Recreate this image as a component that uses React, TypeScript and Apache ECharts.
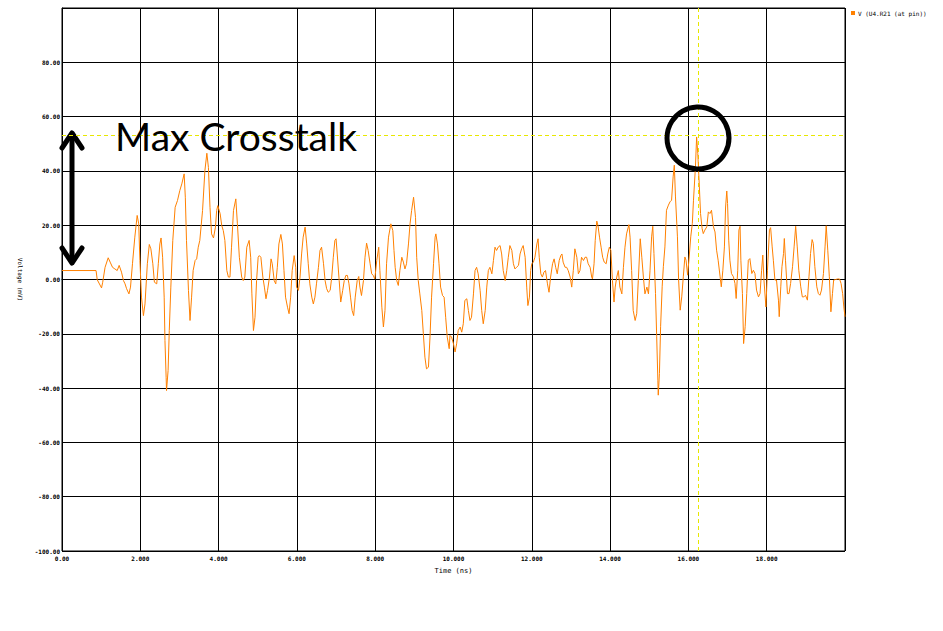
import React, { useEffect, useRef } from "react";
import * as echarts from "echarts";

const seriesName = "V (U4.R21 (at pin))";
const xAxisName = "Time (ns)";
const yAxisName = "Voltage (mV)";
const annotationText = "Max Crosstalk";
const cursorTime = 16.24;
const cursorLevel = 53.1;

// [time (ns), voltage (mV)]
const waveform: [number, number][] = [
  [0, 3.3], [0.87, 3.3], [0.9, -0.1], [1.01, -3.1], [1.04, -1.0], [1.1, 4.5], [1.18, 8.0], [1.23, 6.4],
  [1.29, 4.5], [1.35, 3.9], [1.41, 3.3], [1.46, 5.2], [1.52, 2.7], [1.57, -0.4], [1.61, -1.6], [1.65, -3.4],
  [1.71, -5.3], [1.75, -2.8], [1.8, 5.8], [1.86, 15.6], [1.92, 23.6], [1.96, 20.5], [1.99, 7.0], [2.03, -6.5],
  [2.08, -13.3], [2.12, -9.0], [2.18, 5.8], [2.23, 12.9], [2.27, 11.3], [2.32, 5.8], [2.36, -1.0], [2.42, -1.6],
  [2.46, 5.8], [2.5, 13.1], [2.53, 15.3], [2.57, 8.2], [2.61, -6.5], [2.63, -22.5], [2.66, -36.0], [2.67, -40.9],
  [2.71, -33.5], [2.74, -18.8], [2.78, -2.8], [2.83, 14.4], [2.89, 26.6], [2.95, 29.1], [3.01, 32.8], [3.06, 35.2],
  [3.12, 38.9], [3.15, 30.3], [3.18, 14.4], [3.23, -4.0], [3.27, -15.1], [3.31, -6.5], [3.35, 3.3], [3.4, 7.0],
  [3.44, 7.6], [3.48, 11.9], [3.52, 14.4], [3.59, 25.4], [3.65, 40.1], [3.7, 46.5], [3.74, 41.3], [3.78, 26.6],
  [3.82, 16.8], [3.87, 15.3], [3.92, 19.3], [3.95, 25.4], [3.98, 27.2], [4.04, 24.2], [4.08, 19.9], [4.12, 18.0],
  [4.16, 14.4], [4.21, 3.3], [4.25, 0.9], [4.29, 0.9], [4.33, 11.9], [4.38, 25.4], [4.44, 29.7], [4.48, 20.5],
  [4.53, 8.2], [4.59, 0.9], [4.63, -0.4], [4.67, 0.9], [4.72, 11.9], [4.78, 14.4], [4.82, 8.2], [4.85, -5.3],
  [4.89, -18.8], [4.93, -13.9], [4.97, -0.4], [5.01, 8.2], [5.04, 8.8], [5.08, 8.2], [5.13, 0.9], [5.17, -2.8],
  [5.21, -7.1], [5.25, -4.0], [5.3, 0.9], [5.34, 7.6], [5.37, 5.8], [5.42, -0.4], [5.46, -1.6], [5.5, 4.5],
  [5.54, 13.1], [5.59, 16.6], [5.63, 13.1], [5.67, 3.3], [5.71, -6.5], [5.76, -10.2], [5.8, -12.6], [5.84, -6.5],
  [5.88, 3.3], [5.93, 8.8], [5.97, 4.5], [5.99, -2.8], [6.04, -4.0], [6.08, 0.9], [6.12, 9.4], [6.16, 15.6],
  [6.21, 19.3], [6.25, 13.1], [6.29, 5.8], [6.33, -1.6], [6.38, -6.5], [6.42, -9.0], [6.46, -6.5], [6.5, -1.6],
  [6.55, 4.5], [6.59, 10.7], [6.63, 11.9], [6.68, 5.8], [6.72, -0.4], [6.76, -3.4], [6.8, -4.7], [6.85, -4.0],
  [6.89, 0.9], [6.93, 8.2], [6.97, 14.4], [7.0, 15.0], [7.03, 9.4], [7.08, -0.4], [7.12, -8.3], [7.17, -4.0],
  [7.21, -0.4], [7.25, 1.5], [7.29, 1.5], [7.33, -1.6], [7.37, -6.5], [7.41, -11.4], [7.45, -13.3], [7.49, -6.5],
  [7.54, -0.4], [7.58, 1.1], [7.61, -2.8], [7.65, -5.9], [7.7, -0.4], [7.74, 8.2], [7.78, 13.4], [7.82, 10.7],
  [7.87, 5.8], [7.91, 2.1], [7.95, 1.5], [7.99, 0.2], [8.04, 7.0], [8.09, 11.9], [8.12, 3.3], [8.17, -10.2],
  [8.21, -17.5], [8.25, -11.4], [8.29, 5.8], [8.34, 15.6], [8.4, 20.5], [8.45, 18.0], [8.48, 10.7], [8.51, 4.5],
  [8.55, -0.4], [8.59, -2.2], [8.63, 3.3], [8.68, 8.2], [8.72, 6.4], [8.76, 3.9], [8.8, 5.8], [8.85, 13.1],
  [8.89, 20.5], [8.93, 25.4], [8.98, 30.3], [9.03, 22.9], [9.06, 8.2], [9.1, -0.4], [9.14, -5.3], [9.19, -11.4],
  [9.23, -20.0], [9.27, -28.6], [9.31, -32.9], [9.36, -32.3], [9.4, -21.2], [9.44, -6.5], [9.49, 5.8], [9.53, 15.6],
  [9.55, 16.8], [9.59, 13.1], [9.63, 5.8], [9.67, -2.8], [9.72, -5.9], [9.76, -6.5], [9.8, -13.9], [9.84, -21.2],
  [9.89, -25.5], [9.91, -20.6], [9.95, -21.2], [10.0, -23.7], [10.04, -26.7], [10.08, -23.7], [10.12, -18.8], [10.17, -17.5],
  [10.21, -19.4], [10.25, -16.3], [10.29, -7.7], [10.34, -7.1], [10.38, -11.4], [10.42, -15.1], [10.46, -13.9], [10.51, -5.3],
  [10.55, 3.3], [10.59, 4.5], [10.63, 2.1], [10.68, -4.0], [10.72, -11.4], [10.76, -16.3], [10.81, -11.4], [10.85, -2.8],
  [10.89, 3.3], [10.93, 4.5], [10.98, 2.1], [11.02, 7.0], [11.06, 11.9], [11.1, 10.7], [11.14, 11.9], [11.19, 12.5],
  [11.23, 9.4], [11.27, 3.3], [11.32, -0.4], [11.36, 3.3], [11.4, 8.2], [11.44, 12.5], [11.49, 10.7], [11.53, 5.8],
  [11.57, 3.9], [11.61, 4.5], [11.66, 5.2], [11.7, 9.4], [11.74, 11.3], [11.78, 12.5], [11.83, 8.2], [11.87, -2.8],
  [11.9, -9.6], [11.94, -6.5], [11.97, 3.3], [12.0, 5.8], [12.04, 6.4], [12.08, 8.2], [12.13, 13.1], [12.16, 15.0],
  [12.19, 8.2], [12.23, 2.1], [12.27, 0.9], [12.31, 2.7], [12.35, 3.3], [12.4, -1.6], [12.44, -4.7], [12.48, 0.9],
  [12.53, 5.8], [12.57, 7.6], [12.61, 4.5], [12.65, 2.1], [12.7, 7.0], [12.74, 8.8], [12.77, 9.4], [12.8, 6.4],
  [12.85, 4.5], [12.89, 4.5], [12.93, 3.3], [12.98, 0.9], [13.02, -2.8], [13.06, 3.3], [13.1, 11.3], [13.15, 8.2],
  [13.19, 2.1], [13.23, 3.3], [13.27, 8.2], [13.32, 7.0], [13.36, 8.2], [13.4, 8.2], [13.44, 5.8], [13.49, 4.5],
  [13.53, 0.9], [13.55, 0.2], [13.59, 5.8], [13.62, 14.4], [13.66, 21.5], [13.69, 19.9], [13.73, 15.6], [13.77, 11.9],
  [13.81, 8.2], [13.85, 6.4], [13.9, 5.8], [13.94, 9.4], [13.98, 11.9], [14.02, 10.7], [14.06, -0.4], [14.1, -8.3],
  [14.13, -2.8], [14.17, 0.9], [14.21, 3.3], [14.25, -2.8], [14.3, -5.3], [14.34, 4.5], [14.38, 11.9], [14.42, 16.8],
  [14.48, 20.2], [14.51, 15.6], [14.55, 3.3], [14.59, -11.4], [14.64, -15.1], [14.68, -12.6], [14.72, -0.4], [14.77, 15.0],
  [14.81, 8.2], [14.85, 0.9], [14.89, -5.3], [14.94, -2.8], [14.98, -5.3], [15.02, 3.4], [15.06, 15.7], [15.09, 19.6],
  [15.12, 9.6], [15.16, -5.2], [15.19, -21.1], [15.22, -37.1], [15.23, -42.6], [15.26, -34.6], [15.29, -17.4], [15.33, -2.7],
  [15.36, 4.7], [15.4, 12.0], [15.44, 25.5], [15.49, 27.4], [15.53, 28.6], [15.57, 29.2], [15.61, 37.8], [15.64, 42.1],
  [15.67, 30.4], [15.72, 15.7], [15.75, -0.2], [15.79, -11.3], [15.83, -6.4], [15.87, 1.0], [15.91, 8.3], [15.94, 7.1],
  [15.98, 1.6], [16.02, 8.3], [16.06, 15.7], [16.1, 20.6], [16.13, 29.2], [16.18, 41.5], [16.21, 52.5], [16.24, 46.4],
  [16.28, 34.1], [16.31, 24.3], [16.35, 18.8], [16.38, 16.9], [16.42, 18.2], [16.47, 19.4], [16.51, 24.9], [16.55, 24.3],
  [16.59, 25.5], [16.64, 19.4], [16.68, 17.5], [16.72, 10.8], [16.76, 7.1], [16.81, 1.0], [16.84, -2.7], [16.88, 3.4],
  [16.92, 12.0], [16.95, 26.7], [16.98, 32.6], [17.0, 28.0], [17.03, 14.5], [17.06, 7.1], [17.1, 2.2], [17.15, 1.0],
  [17.19, -1.5], [17.22, -7.0], [17.26, 3.4], [17.29, 18.2], [17.32, 19.6], [17.34, 7.1], [17.38, -5.2], [17.41, -23.6],
  [17.45, -17.4], [17.49, -5.2], [17.53, 7.1], [17.57, 7.7], [17.62, 2.2], [17.66, 3.4], [17.7, 2.2], [17.74, -3.9],
  [17.79, -6.4], [17.83, -5.2], [17.87, 3.4], [17.9, 9.0], [17.93, -0.2], [17.98, -10.1], [18.02, 3.4], [18.07, 18.2],
  [18.1, 19.1], [18.14, 12.0], [18.17, 7.1], [18.21, -0.2], [18.25, -0.2], [18.3, -7.6], [18.32, -13.7], [18.36, -2.7],
  [18.39, 4.7], [18.43, 9.6], [18.45, 15.1], [18.48, 7.1], [18.53, -5.2], [18.57, -5.2], [18.61, -1.5], [18.66, 4.7],
  [18.7, 12.0], [18.74, 19.6], [18.78, 12.0], [18.82, 3.4], [18.87, -2.7], [18.91, -6.4], [18.95, -6.4], [18.99, -5.8],
  [19.04, -7.6], [19.08, 1.0], [19.12, 9.6], [19.16, 14.7], [19.19, 13.3], [19.23, 4.7], [19.28, -2.7], [19.32, -5.2],
  [19.36, -5.8], [19.4, -3.9], [19.45, 2.2], [19.49, 12.0], [19.52, 19.8], [19.56, 10.8], [19.6, 1.0], [19.64, -11.9],
  [19.68, -5.2], [19.71, -0.2], [19.76, 0.0], [19.81, 0.2], [19.86, 0.2], [19.9, -1.5], [19.94, -5.2], [19.97, -10.1],
  [20.0, -13.7],
];

const tickFont = {
  fontFamily: "DejaVu Sans Mono",
  fontSize: 6,
  fontWeight: "bold" as const,
  color: "#000",
};

const arrowStyle = { stroke: "#000", lineWidth: 5, fill: "none", lineJoin: "round" as const, lineCap: "round" as const };

export default function App() {
  const ref = useRef<HTMLDivElement>(null);

  useEffect(() => {
    document.body.style.margin = "0";
    if (!ref.current) return;
    const chart = echarts.init(ref.current, undefined, { renderer: "svg" });
    chart.setOption({
      animation: false,
      backgroundColor: "#fff",
      grid: {
        left: 62,
        right: 98,
        top: 8,
        bottom: 80,
        show: true,
        borderColor: "#000",
        borderWidth: 1,
        backgroundColor: "transparent",
      },
      legend: {
        show: true,
        left: 846,
        top: 5,
        icon: "rect",
        itemWidth: 4,
        itemHeight: 4,
        itemGap: 2,
        textStyle: { ...tickFont, fontWeight: "normal", padding: [0, 0, 0, -2] },
        data: [seriesName],
      },
      xAxis: {
        type: "value",
        min: 0,
        max: 20,
        interval: 2,
        name: xAxisName,
        nameLocation: "middle",
        nameGap: 16,
        nameTextStyle: { fontFamily: "DejaVu Sans Mono", fontSize: 7, color: "#000" },
        axisLine: { show: true, lineStyle: { color: "#000", width: 1 } },
        axisTick: { show: true, length: 3, lineStyle: { color: "#000" } },
        splitLine: { show: true, lineStyle: { color: "#000", width: 1 } },
        axisLabel: {
          ...tickFont,
          margin: 4,
          showMaxLabel: false,
          formatter: (v: number) => (v === 0 ? "0.00" : v.toFixed(3)),
        },
      },
      yAxis: {
        type: "value",
        min: -100,
        max: 100,
        interval: 20,
        name: yAxisName,
        nameLocation: "middle",
        nameRotate: -90,
        nameGap: 36,
        nameTextStyle: { fontFamily: "DejaVu Sans Mono", fontSize: 6, color: "#000" },
        axisLine: { show: true, lineStyle: { color: "#000", width: 1 } },
        axisTick: { show: false },
        splitLine: { show: true, lineStyle: { color: "#000", width: 1 } },
        axisLabel: {
          ...tickFont,
          margin: 2,
          showMaxLabel: false,
          formatter: (v: number) => v.toFixed(2),
        },
      },
      series: [
        {
          name: seriesName,
          type: "line",
          data: waveform,
          showSymbol: false,
          symbol: "rect",
          itemStyle: { color: "#ff8000" },
          lineStyle: { color: "#ff8000", width: 1 },
          z: 3,
          markLine: {
            silent: true,
            symbol: ["none", "none"],
            label: { show: false },
            lineStyle: { color: "#e8e800", type: [4, 3], width: 1 },
            data: [{ yAxis: cursorLevel }, { xAxis: cursorTime }],
            z: 2,
          },
        },
      ],
      graphic: [
        {
          type: "text",
          left: 115,
          top: 116,
          style: {
            text: annotationText,
            fontFamily: "Lato",
            fontSize: 39,
            fill: "#000",
          },
          z: 100,
        },
        {
          type: "group",
          z: 100,
          children: [
            {
              type: "rect",
              shape: { x: 69.5, y: 134, width: 5, height: 128 },
              style: { fill: "#000" },
            },
            {
              type: "polyline",
              shape: { points: [[62, 148], [72, 133], [82, 148]] },
              style: arrowStyle,
            },
            {
              type: "polyline",
              shape: { points: [[62, 248], [72, 263], [82, 248]] },
              style: arrowStyle,
            },
          ],
        },
        {
          type: "circle",
          z: 100,
          shape: { cx: 698, cy: 138, r: 31 },
          style: { stroke: "#000", lineWidth: 5, fill: "none" },
        },
      ],
    });
    return () => chart.dispose();
  }, []);

  return <div ref={ref} style={{ width: 943, height: 631 }} />;
}
